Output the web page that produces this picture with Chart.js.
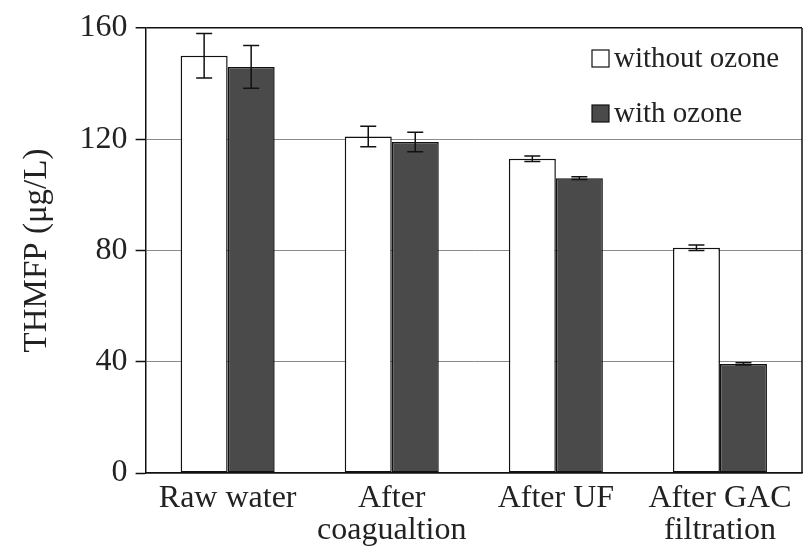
<!DOCTYPE html>
<html>
<head>
<meta charset="utf-8">
<script src="https://cdn.jsdelivr.net/npm/chart.js@4/dist/chart.umd.min.js"></script>
<style>
  html, body { margin: 0; padding: 0; background: #fff; }
  canvas { display: block; }
</style>
</head>
<body>
<canvas id="thmfpChart" width="811" height="557"></canvas>
<script>
// ===============================
// Data
// ===============================
const categories = ["Raw water", ["After", "coagualtion"], "After UF", ["After GAC", "filtration"]];
const seriesNames = ["without ozone", "with ozone"];
const withoutOzone = [150, 121, 113, 81];
const withOzone = [146, 119, 106, 39.2];
const withoutOzoneErr = [8, 3.7, 1, 1];
const withOzoneErr = [7.7, 3.5, 0.5, 0.4];
const yTicks = [0, 40, 80, 120, 160];

const serif = "'Liberation Serif', 'Times New Roman', serif";
const textColor = "#222";

// ===============================
// Error bars
// ===============================
const errorBars = {
    id: "errorBars",
    afterDatasetsDraw(chart) {
        const ctx = chart.ctx;
        const yScale = chart.scales.y;
        chart.data.datasets.forEach((ds, i) => {
            const meta = chart.getDatasetMeta(i);
            meta.data.forEach((bar, j) => {
                const v = ds.data[j];
                const e = ds.errors[j];
                const yTop = yScale.getPixelForValue(v + e);
                const yBot = yScale.getPixelForValue(v - e);
                ctx.save();
                ctx.strokeStyle = "#111";
                ctx.lineWidth = 1.5;
                ctx.beginPath();
                ctx.moveTo(bar.x, yTop);
                ctx.lineTo(bar.x, yBot);
                ctx.moveTo(bar.x - 8, yTop);
                ctx.lineTo(bar.x + 8, yTop);
                ctx.moveTo(bar.x - 8, yBot);
                ctx.lineTo(bar.x + 8, yBot);
                ctx.stroke();
                ctx.restore();
            });
        });
    }
};

// ===============================
// Frame + legend inside plot
// ===============================
const frameAndLegend = {
    id: "frameAndLegend",
    afterDraw(chart) {
        const ctx = chart.ctx;
        const area = chart.chartArea;
        ctx.save();
        ctx.strokeStyle = "#111";
        ctx.lineWidth = 1.5;
        ctx.beginPath();
        ctx.moveTo(area.right, area.top);
        ctx.lineTo(area.right, area.bottom);
        ctx.stroke();

        const x0 = 592;
        const rows = [58, 113];
        ctx.font = "29px " + serif;
        ctx.textBaseline = "middle";
        chart.data.datasets.forEach((ds, i) => {
            const y = rows[i];
            ctx.fillStyle = ds.backgroundColor;
            ctx.fillRect(x0, y - 8, 17, 17);
            ctx.lineWidth = 1.2;
            ctx.strokeStyle = "#111";
            ctx.strokeRect(x0, y - 8, 17, 17);
            ctx.fillStyle = textColor;
            ctx.fillText(ds.label, x0 + 22, y + 1);
        });
        ctx.restore();
    }
};

new Chart(document.getElementById("thmfpChart"), {
    type: "bar",
    data: {
        labels: categories,
        datasets: [
            {
                label: seriesNames[0],
                data: withoutOzone,
                errors: withoutOzoneErr,
                backgroundColor: "#ffffff",
                borderColor: "#111",
                borderWidth: 1.5,
                borderSkipped: false
            },
            {
                label: seriesNames[1],
                data: withOzone,
                errors: withOzoneErr,
                backgroundColor: "#4a4a4a",
                borderColor: "#111",
                borderWidth: 1.5,
                borderSkipped: false
            }
        ]
    },
    options: {
        responsive: false,
        animation: false,
        layout: {
            padding: { left: 18, right: 9, top: 28, bottom: 0 }
        },
        plugins: {
            legend: { display: false },
            tooltip: { enabled: false }
        },
        datasets: {
            bar: { categoryPercentage: 0.573, barPercentage: 1 }
        },
        scales: {
            x: {
                grid: { display: false, drawTicks: false },
                border: { display: true, color: "#111", width: 1.5 },
                ticks: {
                    color: textColor,
                    font: { family: serif, size: 32, lineHeight: 1.0 },
                    padding: 10,
                    maxRotation: 0
                }
            },
            y: {
                min: 0,
                max: 160,
                afterBuildTicks(scale) {
                    scale.ticks = yTicks.map(v => ({ value: v }));
                },
                grid: {
                    color: c => (c.tick && c.tick.value === 160 ? "#111" : "#8a8a8a"),
                    lineWidth: c => (c.tick && c.tick.value === 160 ? 1.5 : 1),
                    tickLength: 10,
                    tickColor: "#111",
                    tickWidth: 1.5
                },
                border: { display: true, color: "#111", width: 1.5 },
                ticks: {
                    color: textColor,
                    font: { family: serif, size: 32 },
                    padding: 8
                },
                title: {
                    display: true,
                    text: "THMFP (μg/L)",
                    color: textColor,
                    font: { family: serif, size: 33 },
                    padding: { top: 0, bottom: 14 }
                }
            }
        }
    },
    plugins: [errorBars, frameAndLegend]
});
</script>
</body>
</html>
